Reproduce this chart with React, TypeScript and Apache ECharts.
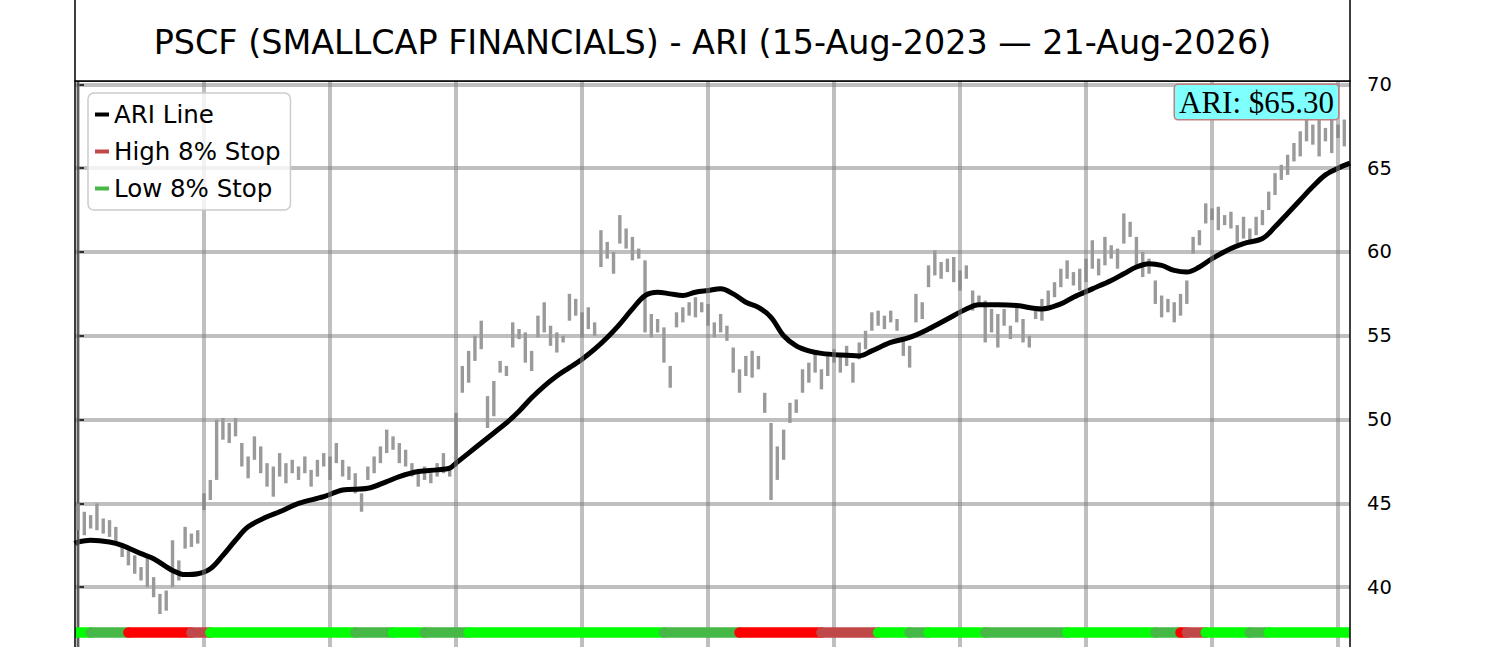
import React, { useEffect, useRef } from "react";
import * as echarts from "echarts";

const TITLE = "PSCF (SMALLCAP FINANCIALS) - ARI (15-Aug-2023 — 21-Aug-2026)";

// price range per bar (index 0..201)
const PRICE_LOW = [
  43.4, 43.1, 43.5, 43.4, 43.2, 43.0, 42.5, 41.8, 41.3, 40.8,
  40.4, 40.0, 39.4, 38.4, 38.6, 40.0, 40.4, 42.3, 42.4, 42.6,
  44.6, 45.2, 46.4, 48.8, 48.6, 49.0, 47.2, 46.5, 47.6, 46.8,
  46.0, 45.4, 46.6, 46.2, 46.8, 46.4, 46.8, 46.0, 46.6, 47.2,
  46.4, 47.4, 46.6, 46.4, 45.6, 44.5, 46.4, 46.8, 47.4, 48.0,
  48.2, 47.4, 47.2, 46.6, 46.0, 46.4, 46.2, 46.6, 46.8, 46.6,
  47.2, 51.6, 52.2, 53.5, 54.2, 49.5, 50.2, 52.8, 52.6, 54.3,
  54.8, 53.4, 52.9, 54.9, 55.2, 54.4, 54.0, 54.6, 55.9, 56.2,
  54.9, 55.4, 55.0, 59.1, 59.6, 58.7, 60.5, 60.2, 59.5, 59.6,
  55.2, 54.9, 55.2, 53.4, 51.9, 55.5, 55.8, 56.2, 56.1, 56.4,
  55.6, 54.9, 55.2, 54.7, 52.8, 51.6, 52.6, 52.5, 53.0, 50.4,
  45.2, 46.4, 47.6, 49.8, 50.4, 51.6, 52.2, 52.8, 51.8, 52.6,
  53.4, 52.8, 53.2, 52.2, 53.6, 54.2, 55.3, 55.6, 55.4, 55.8,
  55.3, 53.8, 53.1, 55.8, 56.0, 57.9, 58.6, 58.4, 58.8, 58.2,
  57.7, 58.4, 56.5, 56.8, 54.6, 55.2, 54.3, 55.6, 54.8, 55.8,
  54.6, 54.3, 56.0, 55.9, 56.6, 57.3, 57.9, 58.4, 58.0, 57.7,
  58.2, 59.0, 58.6, 59.2, 59.6, 59.0, 60.5, 60.9, 59.2, 58.5,
  58.7, 56.9, 56.1, 56.4, 55.8, 56.2, 56.9, 59.9, 60.4, 61.7,
  61.9, 61.3, 61.6, 61.4, 60.5, 60.8, 60.7, 61.0, 61.6, 62.5,
  63.4, 64.3, 64.6, 65.4, 65.7, 66.6, 66.4, 65.7, 66.6, 65.9,
  66.8, 66.3,
];
const PRICE_HIGH = [
  45.0, 44.5, 44.3, 45.0, 44.1, 44.0, 43.6, 42.6, 42.2, 41.9,
  41.2, 41.8, 40.6, 39.6, 39.8, 42.8, 41.6, 43.6, 43.2, 43.4,
  45.6, 46.4, 50.0, 50.1, 49.8, 50.1, 48.6, 47.8, 49.0, 48.4,
  47.4, 47.2, 48.0, 47.4, 47.6, 47.2, 47.8, 47.0, 47.6, 48.0,
  47.8, 48.6, 47.6, 47.2, 46.8, 45.6, 47.2, 47.8, 48.4, 49.4,
  49.0, 48.6, 48.2, 47.4, 47.0, 47.2, 46.8, 47.4, 48.0, 47.2,
  50.4, 53.2, 54.1, 55.0, 55.9, 51.4, 52.3, 53.5, 53.2, 55.8,
  55.4, 55.2, 54.1, 56.2, 57.0, 55.6, 55.2, 55.0, 57.5, 57.2,
  56.4, 56.7, 55.8, 61.3, 60.6, 60.0, 62.2, 61.4, 60.9, 60.2,
  59.5, 56.3, 56.0, 55.5, 53.2, 56.4, 56.7, 57.0, 57.3, 57.0,
  56.9, 55.8, 56.3, 55.6, 54.3, 53.0, 53.8, 54.1, 53.8, 51.6,
  49.8, 48.4, 49.4, 51.0, 51.2, 53.0, 53.4, 54.1, 53.0, 54.0,
  54.2, 53.8, 54.4, 53.4, 54.6, 55.3, 56.4, 56.5, 56.2, 56.5,
  56.0, 54.9, 54.4, 57.5, 57.0, 59.2, 60.1, 59.4, 59.6, 59.7,
  58.9, 59.2, 57.7, 57.4, 57.1, 56.6, 56.3, 56.6, 55.6, 56.7,
  56.0, 55.0, 56.6, 57.2, 57.7, 58.2, 59.0, 59.5, 58.8, 59.0,
  59.6, 60.7, 59.6, 60.9, 60.4, 60.2, 62.3, 61.8, 60.9, 60.0,
  59.6, 58.3, 57.4, 57.2, 57.0, 57.5, 58.3, 60.9, 61.3, 62.9,
  62.6, 62.7, 62.2, 62.4, 61.6, 62.1, 61.4, 62.1, 62.5, 63.6,
  64.7, 65.2, 65.8, 66.5, 67.2, 68.0, 67.6, 67.9, 67.4, 68.5,
  67.6, 67.9,
];

// ARI line (bar index, value)
const ARI_X = [
  -0.5, 0, 2, 5, 7, 10, 12, 15, 17, 19, 21, 23, 25, 27, 30, 32, 35, 39, 42, 46,
  49, 51, 54, 57, 59, 60, 62, 64, 66, 68, 70, 72, 74, 76, 78, 80, 82, 84, 86, 88,
  90, 92, 94, 96, 98, 100, 102, 104, 106, 108, 110, 112, 114, 116, 118, 121, 124, 126, 129, 132,
  135, 138, 141, 143, 146, 149, 153, 156, 158, 161, 164, 166, 168, 170, 172, 174, 176, 178, 180, 183,
  185, 188, 190, 192, 194, 196, 198, 200, 201.9,
];
const ARI_Y = [
  42.6, 42.7, 42.8, 42.7, 42.5, 42.0, 41.7, 41.0, 40.75, 40.8, 41.1, 41.9, 42.8, 43.6, 44.2, 44.5, 45.0, 45.4, 45.8, 45.9,
  46.3, 46.6, 46.9, 47.0, 47.1, 47.4, 48.0, 48.6, 49.2, 49.8, 50.5, 51.3, 52.0, 52.6, 53.1, 53.6, 54.2, 54.9, 55.7, 56.6,
  57.4, 57.6, 57.5, 57.4, 57.6, 57.7, 57.8, 57.5, 57.0, 56.7, 56.1, 55.0, 54.4, 54.1, 53.95, 53.85, 53.8, 54.1, 54.6, 54.9,
  55.4, 56.0, 56.6, 56.85, 56.85, 56.8, 56.6, 56.9, 57.3, 57.8, 58.3, 58.7, 59.1, 59.3, 59.2, 58.9, 58.8, 59.1, 59.6, 60.2,
  60.5, 60.8, 61.5, 62.3, 63.1, 63.9, 64.6, 65.0, 65.3,
];

// vertical grid positions (bar index)
const GRID_X = [0, 20, 40, 60, 80, 100, 120, 140, 160, 180, 200];
const Y_TICKS = [40, 45, 50, 55, 60, 65, 70];

// stop band: bar index where each state starts, and the state
const STOP_STARTS = [-1, 2, 8, 18, 21, 44, 50, 55, 62, 93, 105, 118, 127, 132, 135, 144, 157, 171, 175, 176, 179, 186, 189];
const STOP_STATES = ["G", "g", "R", "r", "G", "g", "G", "g", "G", "g", "R", "r", "G", "g", "G", "g", "G", "g", "R", "r", "G", "g", "G"];
const STOP_END = 204;
const STOP_LEVEL = 37.3;
const STATE_COLORS: Record<string, string> = { G: "#00ff00", g: "#45b845", R: "#ff0000", r: "#c04848" };

const X_MIN = -0.48;
const X_MAX = 201.9;

export default function App() {
  const ref = useRef<HTMLDivElement>(null);
  useEffect(() => {
    document.body.style.margin = "0";
    const chart = echarts.init(ref.current!, null, { renderer: "svg" });
    const stopData = STOP_STARTS.map((s, k) => [s, k + 1 < STOP_STARTS.length ? STOP_STARTS[k + 1] : STOP_END, STOP_LEVEL]);
    const barData = PRICE_LOW.map((lo, i) => [i, lo, PRICE_HIGH[i]]);
    const ariLast = ARI_Y[ARI_Y.length - 1];
    const option: any = {
      animation: false,
      grid: { left: 75, right: 150, top: 81, bottom: 49, containLabel: false },
      xAxis: {
        type: "value",
        min: X_MIN,
        max: X_MAX,
        axisLine: { show: false },
        axisTick: { show: false },
        axisLabel: { show: false },
        splitLine: { show: false },
      },
      yAxis: {
        type: "value",
        position: "right",
        min: 35,
        max: 70.2,
        interval: 5,
        axisLine: { show: true, lineStyle: { color: "#000", width: 1.5 } },
        axisTick: { show: true, length: 6, customValues: Y_TICKS, lineStyle: { color: "#000", width: 1.5 } },
        axisLabel: {
          show: true,
          margin: 17,
          fontSize: 19.5,
          fontFamily: "DejaVu Sans",
          color: "#000",
          customValues: Y_TICKS,
          formatter: (v: number) => (Y_TICKS.indexOf(v) >= 0 ? String(v) : ""),
        },
        splitLine: { show: true, lineStyle: { color: "rgba(128,128,128,0.5)", width: 4 } },
      },
      legend: {
        data: ["ARI Line", "High 8% Stop", "Low 8% Stop"],
        orient: "vertical",
        left: 88,
        top: 93,
        icon: "rect",
        itemWidth: 14,
        itemHeight: 4,
        itemGap: 12,
        padding: [9, 10, 9, 7],
        backgroundColor: "rgba(255,255,255,0.8)",
        borderColor: "#cccccc",
        borderWidth: 1.5,
        borderRadius: 6,
        selectedMode: false,
        z: 10,
        textStyle: { fontSize: 24.5, fontFamily: "DejaVu Sans", color: "#000", lineHeight: 24 },
      },
      series: [
        {
          type: "line",
          name: "grid",
          data: [],
          z: 1,
          silent: true,
          markLine: {
            silent: true,
            symbol: ["none", "none"],
            label: { show: false },
            lineStyle: { color: "rgba(128,128,128,0.5)", width: 4, type: "solid" },
            data: GRID_X.map((v) => ({ xAxis: v })),
          },
        },
        {
          type: "custom",
          name: "price",
          z: 2,
          clip: true,
          silent: true,
          data: barData,
          encode: { x: 0, y: [1, 2] },
          renderItem: (_p: any, api: any) => {
            const a = api.coord([api.value(0), api.value(1)]);
            const b = api.coord([api.value(0), api.value(2)]);
            return {
              type: "line",
              shape: { x1: a[0], y1: a[1], x2: b[0], y2: b[1] },
              style: { stroke: "#9a9a9a", lineWidth: 3.4 },
            };
          },
        },
        {
          type: "line",
          name: "ARI Line",
          data: ARI_X.map((x, i) => [x, ARI_Y[i]]),
          smooth: 0.35,
          symbol: "none",
          showSymbol: false,
          z: 4,
          silent: true,
          lineStyle: { color: "#000", width: 5 },
          itemStyle: { color: "#000" },
        },
        {
          type: "line",
          name: "High 8% Stop",
          data: [],
          itemStyle: { color: STATE_COLORS.r },
          lineStyle: { color: STATE_COLORS.r },
        },
        {
          type: "line",
          name: "Low 8% Stop",
          data: [],
          itemStyle: { color: STATE_COLORS.g },
          lineStyle: { color: STATE_COLORS.g },
        },
        {
          type: "custom",
          name: "stops",
          z: 5,
          clip: true,
          silent: true,
          data: stopData,
          encode: { x: [0, 1], y: 2 },
          renderItem: (p: any, api: any) => {
            const a = api.coord([api.value(0), api.value(2)]);
            const b = api.coord([api.value(1), api.value(2)]);
            return {
              type: "line",
              shape: { x1: a[0], y1: a[1], x2: b[0], y2: b[1] },
              style: { stroke: STATE_COLORS[STOP_STATES[p.dataIndex]], lineWidth: 10.5, lineCap: "round" },
            };
          },
        },
      ],
      graphic: [
        {
          type: "rect",
          z: 20,
          silent: true,
          shape: { x: 75, y: 81, width: 1275, height: 700 },
          style: { fill: null, stroke: "#000", lineWidth: 1.5 },
        },
        {
          type: "rect",
          z: 21,
          silent: true,
          shape: { x: 75, y: -2, width: 1275, height: 83 },
          style: { fill: "#fff", stroke: "#000", lineWidth: 1.5 },
        },
        {
          type: "text",
          z: 22,
          silent: true,
          x: 712.5,
          y: 42,
          style: {
            text: TITLE,
            fontSize: 33.4,
            fontFamily: "DejaVu Sans",
            fill: "#000",
            align: "center",
            verticalAlign: "middle",
            textAlign: "center",
            textVerticalAlign: "middle",
          },
        },
        {
          type: "text",
          z: 22,
          silent: true,
          x: 1338,
          y: 85,
          style: {
            text: `ARI: $${ariLast.toFixed(2)}`,
            fontSize: 31,
            fontFamily: "Liberation Serif",
            fill: "#000",
            align: "right",
            verticalAlign: "top",
            textAlign: "right",
            textVerticalAlign: "top",
            backgroundColor: "#80ffff",
            borderColor: "#c08080",
            borderWidth: 1.5,
            borderRadius: 3,
            padding: [1, 4, 1, 4],
            lineHeight: 32,
          },
        },
      ],
    };
    chart.setOption(option);
    return () => chart.dispose();
  }, []);
  return (
    <div style={{ position: "fixed", left: 0, top: 0, width: 1500, height: 647, overflow: "hidden", background: "#fff" }}>
      <div ref={ref} style={{ width: 1500, height: 720 }} />
    </div>
  );
}
